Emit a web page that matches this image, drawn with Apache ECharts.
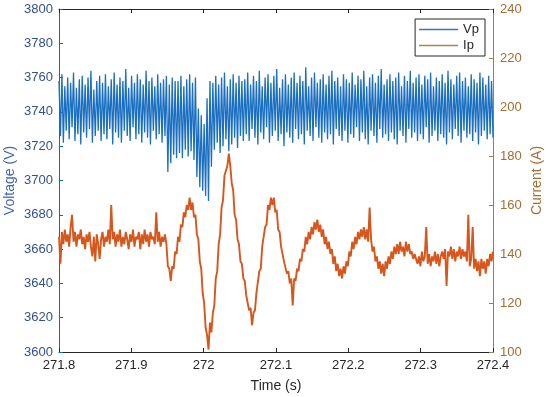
<!DOCTYPE html>
<html>
<head>
<meta charset="utf-8">
<script src="https://cdn.jsdelivr.net/npm/echarts@6/dist/echarts.min.js"></script>
<style>
html,body{margin:0;padding:0;background:#fff;}
#chart{width:550px;height:397px;}
</style>
</head>
<body>
<div id="chart"></div>
<script>
// ---- data ----
var tStart = 271.8, tEnd = 272.4;
var xTicks = [271.8, 271.9, 272, 272.1, 272.2, 272.3, 272.4];
var vTicks = [3600, 3620, 3640, 3660, 3680, 3700, 3720, 3740, 3760, 3780, 3800];
var iTicks = [100, 120, 140, 160, 180, 200, 220, 240];

// Vp: successive peaks and troughs of the fast ripple (V)
var vpPeaks = [3758,3762,3755,3760,3757,3763,3754,3759,3761,3756,3760,3764,3753,3758,3761,3757,3762,3755,3759,3763,3756,3760,3758,3765,3754,3761,3757,3762,3759,3756,3764,3758,3760,3755,3762,3757,3759,
  3761,3756,3760,3758,
  3758,3761,3755,3759,3762,3757,
  3760,3742,3738,3733,3748,3758,
  3757,3761,3756,3760,3763,3755,3759,3762,3757,3761,3758,
  3759,3763,3756,3761,3758,3764,3755,3760,3762,3757,3761,3765,3754,3759,3762,3756,3760,3763,3757,3761,3758,3766,3755,3760,3763,3757,3759,3762,3756,3761,3764,3758,3760,3755,3762,3759,3757,3763,3756,3761,3759,3764,3755,3760,3762,3757,3761,3765,3756,3759,3762,3758,3760,3763,3755,3761,3758,3764,3757,3760,3762,3756,3761,3759,3763,3755,3760,3758,3762,3757,3764,3759,3756,3761,3763,3758,3760,3755,3762,3759,3757,3763,3760,3756,3761,3758];
var vpTroughs = [3726,3722,3729,3724,3731,3723,3727,3721,3728,3725,3730,3722,3726,3729,3723,3727,3724,3730,3721,3728,3725,3722,3729,3726,3723,3731,3724,3727,3722,3728,3725,3721,3729,3724,3727,3722,3726,
  3705,3710,3715,3713,
  3716,3713,3718,3714,3717,3712,
  3702,3696,3694,3691,3688,3708,
  3718,3722,3716,3720,3724,3717,3721,3725,3719,3726,3723,
  3727,3723,3730,3725,3721,3728,3724,3731,3722,3726,3729,3723,3727,3720,3728,3725,3722,3730,3724,3727,3721,3729,3726,3723,3731,3725,3722,3728,3724,3727,3721,3730,3726,3723,3729,3722,3727,3725,3731,3723,3728,3724,3721,3729,3726,3722,3730,3725,3727,3723,3728,3724,3721,3729,3726,3722,3730,3725,3728,3723,3727,3724,3731,3722,3726,3729,3723,3727,3725,3721,3728,3724,3730,3726,3722,3729,3725,3727,3723,3728,3721,3726,3729,3724,3727,3725];

// Ip samples (A)
var ipValues = [
  147,136,149,144,150,145,148,143,151,156,
  145,149,143,148,146,150,144,147,142,148,
  145,149,143,139,147,137,148,144,138,146,
  149,143,147,145,150,144,160,146,149,143,
  148,145,150,143,147,144,149,146,142,148,
  145,150,143,147,146,149,142,148,144,150,
  145,148,143,149,146,147,144,157,145,149,
  143,147,145,148,
  144,135,134,129,135,134,141,140,147,145,152,151,157,155,160,158,163,158,161,155,156,148,146,137,134,124,
  120,110,107,101,112,108,116,119,130,133,144,148,159,162,172,174,176,181,
  176,169,166,156,154,146,144,137,136,130,129,123,123,117,118,111,
  116,117,124,124,133,134,143,143,151,152,160,158,163,160,163,157,158,150,149,143,143,137,137,132,133,128,130,
  119,
  130,129,134,133,138,137,142,141,147,144,149,146,151,148,153,150,154,
  149,152,147,150,144,147,142,145,140,142,136,139,133,136,131,134,130,135,132,137,135,141,139,145,142,147,144,149,146,150,147,151,146,150,145,
  159,
  146,141,143,137,139,134,137,132,136,131,137,134,139,136,141,138,143,140,
  144,140,145,141,143,139,145,141,144,140,
  141,138,140,
  140,136,139,135,141,137,139,151,136,140,135,139,137,141,136,140,135,139,
  141,138,142,127,141,139,143,138,142,137,141,139,143,138,142,139,141,
  137,156,135,138,151,
  134,138,133,137,131,138,134,137,132,138,135,
  140,137,141
];

// ---- build series tables ----
var vpData = [];
for (var k = 0; k < vpPeaks.length; k++) { vpData.push(vpPeaks[k]); vpData.push(vpTroughs[k]); }
function withTime(vals) {
  var out = [], n = vals.length;
  for (var i = 0; i < n; i++) out.push([tStart + (tEnd - tStart) * i / (n - 1), vals[i]]);
  return out;
}

var blue = '#0072BD';
var leftTxt = '#34508F', rightTxt = '#A66D30', rightLine = '#A87A40', black = '#262626';
var font = 'Liberation Sans, Arial, Helvetica, sans-serif';
function plain(v) { return String(Number(v.toFixed(1))); }

var chart = echarts.init(document.getElementById('chart'), null, {renderer: 'canvas'});
chart.setOption({
  animation: false,
  backgroundColor: '#fff',
  textStyle: {fontFamily: font},
  grid: {left: 59, right: 57, top: 9, bottom: 45, containLabel: false, outerBoundsMode: 'none'},
  legend: {
    orient: 'vertical', right: 65, top: 19,
    backgroundColor: '#fff', borderColor: black, borderWidth: 1,
    padding: [4, 6, 4, 4], itemGap: 3, itemWidth: 39, itemHeight: 1.5,
    textStyle: {fontSize: 13, color: black, fontFamily: font},
    data: [{name: 'Vp', icon: 'rect', itemStyle: {color: '#3D72C4'}}, {name: 'Ip', icon: 'rect', itemStyle: {color: '#B08445'}}]
  },
  xAxis: [{
    type: 'value', position: 'bottom', min: xTicks[0], max: xTicks[xTicks.length - 1], interval: 0.1,
    name: 'Time (s)', nameLocation: 'middle', nameGap: 27, nameMoveOverlap: false,
    nameTextStyle: {fontSize: 14, color: black, fontFamily: font},
    axisLine: {lineStyle: {color: black, width: 1}},
    axisTick: {inside: true, length: 4, lineStyle: {color: black}},
    axisLabel: {fontSize: 13, color: black, margin: 7, fontFamily: font, formatter: plain},
    splitLine: {show: false}
  }, {
    type: 'value', position: 'top', min: xTicks[0], max: xTicks[xTicks.length - 1], interval: 0.1,
    axisLine: {lineStyle: {color: black, width: 1}},
    axisTick: {inside: true, length: 4, lineStyle: {color: black}},
    axisLabel: {show: false}, splitLine: {show: false}
  }],
  yAxis: [{
    type: 'value', position: 'left', min: vTicks[0], max: vTicks[vTicks.length - 1], interval: 20,
    name: 'Voltage (V)', nameLocation: 'middle', nameGap: 42, nameMoveOverlap: false,
    nameTextStyle: {fontSize: 14, color: '#3F66B0', fontFamily: font},
    axisLine: {show: true, lineStyle: {color: blue, width: 1}},
    axisTick: {show: true, inside: true, length: 4, lineStyle: {color: blue}},
    axisLabel: {fontSize: 13, color: leftTxt, margin: 6, fontFamily: font, formatter: plain},
    splitLine: {show: false}
  }, {
    type: 'value', position: 'right', min: iTicks[0], max: iTicks[iTicks.length - 1], interval: 20,
    name: 'Current (A)', nameLocation: 'middle', nameGap: 37, nameRotate: 90, nameMoveOverlap: false,
    nameTextStyle: {fontSize: 14, color: rightTxt, fontFamily: font},
    axisLine: {show: true, lineStyle: {color: rightLine, width: 1}},
    axisTick: {show: true, inside: true, length: 4, lineStyle: {color: rightLine}},
    axisLabel: {fontSize: 13, color: rightTxt, margin: 7, fontFamily: font, formatter: plain},
    splitLine: {show: false}
  }],
  series: [{
    name: 'Vp', type: 'line', xAxisIndex: 0, yAxisIndex: 0, data: withTime(vpData),
    showSymbol: false, symbol: 'none', lineStyle: {color: '#1A6FC0', width: 1.3}, itemStyle: {color: blue}, z: 2
  }, {
    name: 'Ip', type: 'line', xAxisIndex: 0, yAxisIndex: 1, data: withTime(ipValues),
    showSymbol: false, symbol: 'none', lineStyle: {color: '#D6561C', width: 1.9}, itemStyle: {color: '#B08445'}, z: 3
  }]
});
</script>
</body>
</html>
